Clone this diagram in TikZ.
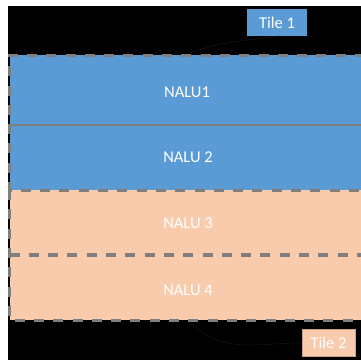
\documentclass[tikz,border=0pt]{standalone}
\usepackage{fontspec}
\setmainfont{Carlito}
\definecolor{tileblue}{HTML}{5B9BD5}
\definecolor{tilepeach}{HTML}{F8CBAD}
\definecolor{rahmen}{HTML}{7F7F7F}
\definecolor{zeiger}{HTML}{171717}
\tikzset{
	nalu/.style={text=white, font=\fontsize{16.5}{19}\selectfont},
	tilelabel/.style={nalu, minimum width=#1, minimum height=27pt, inner sep=0pt},
	tilerand/.style={draw=rahmen, line width=3pt, dash pattern=on 10pt off 9.3pt},
	callout/.style={draw=zeiger, line width=0.5pt}
}
\begin{document}
\begin{tikzpicture}[x=1pt, y=-1pt]
	\useasboundingbox[fill=white] (0,0) rectangle (361,360);
	% Hintergrund
	\fill[black] (8,6) rectangle (361,360);

	% Tile 1
	\fill[tileblue] (9.5,55) rectangle (361,190);
	\draw[rahmen, line width=2.5pt] (9.5,125) -- (361,125);
	\node[nalu] (nalu1) at (187,92) {NALU1};
	\node[nalu] (nalu2) at (188,157) {NALU 2};

	% Tile 2
	\fill[tilepeach] (9.5,190) rectangle (361,320);
	\draw[tilerand, line width=4pt] (9.5,255) -- (361,255);
	\node[nalu] (nalu3) at (188,223) {NALU 3};
	\node[nalu] (nalu4) at (188,290) {NALU 4};

	% gestrichelte Tile-Grenzen
	\draw[tilerand] (365,55) -- (9.5,55) -- (9.5,190) -- (365,190);
	\draw[tilerand] (9.5,190) -- (9.5,320) -- (365,320);

	% Beschriftungen
	\node[tilelabel=60pt, fill=tileblue] (tile1) at (277,22.5) {Tile 1};
	\node[tilelabel=53pt, fill=tilepeach, draw=tilepeach!80!black, line width=0.6pt] (tile2) at (328.5,343) {Tile 2};
	\coordinate (ende1) at (190,53);
	\coordinate (ende2) at (192,323.5);
	\draw[callout] (tile1.south) to[out=188, in=20] (ende1);
	\draw[callout] (tile2.west) to[out=180, in=-45] (ende2);
\end{tikzpicture}
\end{document}
